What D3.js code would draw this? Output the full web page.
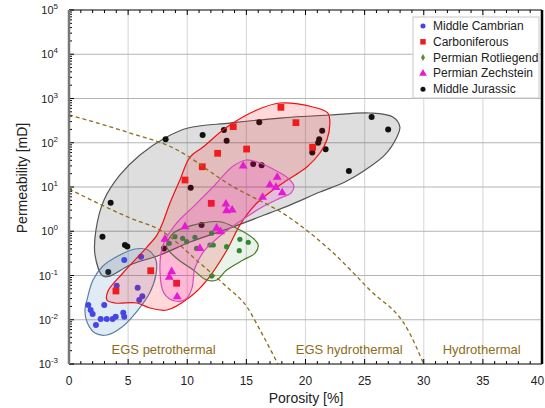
<!DOCTYPE html>
<html><head><meta charset="utf-8">
<script src="https://cdn.jsdelivr.net/npm/d3@7"></script>
<style>body{margin:0;background:#fff}svg{display:block;font-family:"Liberation Sans",Arial,sans-serif}</style>
</head><body><svg id="c" width="545" height="408"></svg>
<script>
// ---- data: [porosity %, permeability mD] ----
const cambrian = [[4.67,0.224],[6.09,0.266],[4.03,0.059],[5.81,0.053],[6.20,0.034],[5.94,0.028],[2.98,0.0215],[1.63,0.0215],[1.83,0.0166],[2.0,0.0135],[4.59,0.0144],[4.67,0.0117],[3.95,0.0117],[3.69,0.0104],[3.19,0.0104],[2.68,0.0104],[2.28,0.0076]];
const carboniferous = [[6.91,0.128],[3.97,0.0447],[17.92,632],[13.89,231],[19.19,284],[12.57,57.8],[15.02,72],[11.27,28.7],[9.81,14.4],[12.03,4.28],[20.60,79],[9.10,0.0667]];
const rotliegend = [[8.48,0.534],[8.96,0.753],[9.61,0.693],[9.95,0.58],[10.65,0.73],[10.79,0.41],[11.92,0.489],[12.2,0.489],[12.06,0.90],[13.33,0.448],[14.45,0.658],[15.16,0.563],[14.40,0.363],[12.06,0.0975]];
const zechstein = [[14.73,29.8],[17.61,16.6],[16.99,11.1],[17.50,9.8],[18.03,7.4],[16.37,5.85],[13.27,4.13],[13.33,2.91],[13.80,3.02],[9.81,1.27],[12.48,1.17],[12.81,0.98],[8.11,0.66],[11.07,0.41],[8.68,0.122],[8.48,0.091],[9.15,0.033]];
const jurassic = [[8.17,120],[3.52,4.4],[2.83,0.75],[4.73,0.49],[4.93,0.45],[3.32,0.12],[11.30,150],[13.10,194],[13.33,111],[16.09,290],[15.58,33],[16.29,31],[10.29,9.6],[21.41,187],[21.16,120],[21.07,100],[20.57,60],[21.70,71],[25.59,380],[26.99,200],[23.67,23],[11.21,1.38],[8.03,0.41]];

// envelope outlines
const cambrianHull = [[1.52,0.028],[2.03,0.079],[2.87,0.164],[4.14,0.276],[5.58,0.397],[6.68,0.377],[7.35,0.224],[7.35,0.103],[6.85,0.042],[5.83,0.0166],[4.48,0.00686],[3.21,0.00452],[2.20,0.0050],[1.52,0.0089],[1.35,0.0166]];
const carboniferousHull = [[3.21,0.028],[3.30,0.0446],[4.56,0.114],[6.59,0.44],[7.44,0.82],[7.95,1.62],[8.54,4.34],[9.38,14.4],[10.23,47.6],[11.33,80],[13.36,227],[15.89,550],[17.84,791],[20.63,643],[21.89,470],[22.06,279],[21.81,115],[21.22,58.6],[20.12,28.3],[19.53,21.8],[17.84,11.1],[15.89,4.34],[14.45,1.38],[13.36,0.377],[11.67,0.079],[10.23,0.0327],[8.28,0.0166],[6.85,0.0184],[5.75,0.0239],[3.89,0.0239]];
const rotliegendHull = [[8.26,0.448],[8.82,0.90],[10.51,1.38],[12.76,1.64],[14.18,1.17],[15.58,0.69],[16.0,0.49],[15.72,0.318],[14.73,0.224],[13.33,0.133],[12.49,0.079],[11.64,0.079],[10.51,0.133],[9.10,0.245]];
const zechsteinHull = [[14.96,40.8],[16.15,34.9],[17.41,24.2],[18.51,16],[19.02,10.5],[18.77,7.3],[17.84,5.6],[16.31,3.5],[14.88,2.0],[13.19,0.96],[11.5,0.377],[10.65,0.148],[10.4,0.052],[9.89,0.0294],[8.96,0.0265],[8.03,0.040],[7.69,0.133],[7.95,0.489],[8.96,1.38],[10.65,3.9],[12.34,11.1],[13.78,28.3]];
const jurassicHull = [[2.87,0.097],[2.20,0.29],[2.28,1.07],[2.96,5.1],[4.31,18.7],[6.0,53],[8.11,128],[10.06,215],[13.61,279],[17.84,362],[22.06,424],[25.44,470],[27.39,382],[27.98,227],[27.73,135],[26.71,53],[25.02,24],[23.33,13],[21.22,7.7],[18.68,3.9],[16.99,2.6],[13.61,1.18],[10.23,0.57],[7.69,0.29],[5.16,0.173],[3.47,0.097]];

// boundary curves
const petroBoundary = [[0,9.0],[5.16,2.0],[7.69,1.07],[11.07,0.19],[13.36,0.055],[15.05,0.0195],[16.15,0.0059],[17.67,0.001]];
const hydroBoundary = [[0,427],[5.16,166],[8.71,79],[13.61,11.2],[18.68,2.0],[22.06,0.38],[25.44,0.047],[28.66,0.0059],[30.0,0.001]];

const xTicks = [0,5,10,15,20,25,30,35,40];
const yExps = [-3,-2,-1,0,1,2,3,4,5];
const seriesNames = ["Middle Cambrian","Carboniferous","Permian Rotliegend","Permian Zechstein","Middle Jurassic"];
const zoneLabels = [["EGS petrothermal",8.0],["EGS hydrothermal",23.7],["Hydrothermal",34.9]];

// ---- drawing ----
const svg = d3.select("#c");
const L=69, R=542, T=10, B=364;
const x = d3.scaleLinear().domain([0,40]).range([L,R]);
const y = d3.scaleLog().domain([1e-3,1e5]).range([B,T]);

// grid
const g = svg.append("g");
g.selectAll(".vg").data(xTicks.slice(1,-1)).join("line")
  .attr("x1",d=>x(d)).attr("x2",d=>x(d)).attr("y1",T).attr("y2",B)
  .attr("stroke","#dcdcdc").attr("stroke-width",1.2);
g.selectAll(".hg").data(yExps.slice(1,-1)).join("line")
  .attr("x1",L).attr("x2",R).attr("y1",d=>y(Math.pow(10,d))).attr("y2",d=>y(Math.pow(10,d)))
  .attr("stroke","#b4b4b4").attr("stroke-width",1.2);

const hullLine = d3.line().x(d=>x(d[0])).y(d=>y(d[1])).curve(d3.curveCatmullRomClosed.alpha(0.5));
const plot = svg.append("g");

function drawHull(data, fill, op, stroke){
  plot.append("path").attr("d",hullLine(data)).attr("fill",fill).attr("fill-opacity",op)
    .attr("stroke",stroke).attr("stroke-width",1.2);
}
function drawCircles(data, color, r){
  plot.append("g").selectAll("circle").data(data).join("circle")
    .attr("cx",d=>x(d[0])).attr("cy",d=>y(d[1])).attr("r",r).attr("fill",color);
}
function drawSymbols(data, color, type, size){
  plot.append("g").selectAll("path").data(data).join("path")
    .attr("transform",d=>`translate(${x(d[0])},${y(d[1])})`)
    .attr("d",d3.symbol().type(type).size(size)).attr("fill",color);
}

const colors = {cam:"#4646e6", carb:"#ee1c1c", rot:"#2e8b2e", zech:"#e41bd0", jur:"#111111"};

drawHull(jurassicHull,"#000",0.13,"#555");
drawCircles(jurassic,colors.jur,3);
drawHull(cambrianHull,"#4682c8",0.16,"#5b7fa6");
drawCircles(cambrian,colors.cam,3);
drawHull(carboniferousHull,"#ff0000",0.15,"#ee1111");
drawSymbols(carboniferous,colors.carb,d3.symbolSquare,46);
drawHull(rotliegendHull,"#2e8b2e",0.1,"#4a7a2a");
drawCircles(rotliegend,colors.rot,2.6);
drawHull(zechsteinHull,"#ff00c8",0.15,"#d44fb8");
drawSymbols(zechstein,colors.zech,d3.symbolTriangle,34);

// boundary curves
const bLine = d3.line().x(d=>x(d[0])).y(d=>y(d[1])).curve(d3.curveMonotoneX);
[petroBoundary,hydroBoundary].forEach(c=>{
  svg.append("path").attr("d",bLine(c)).attr("fill","none").attr("stroke","#8c6d1a")
    .attr("stroke-width",1.3).attr("stroke-dasharray","4,3");
});

// zone labels
svg.selectAll(".zl").data(zoneLabels).join("text")
  .attr("x",d=>x(d[1])).attr("y",354).attr("text-anchor","middle")
  .attr("font-size",13).attr("fill","#8c6d1a").text(d=>d[0]);

// frame & ticks
const ax = svg.append("g");
const minorX = d3.range(0,41,1);
ax.selectAll(".tb").data(minorX).join("line")
  .attr("x1",d=>x(d)).attr("x2",d=>x(d)).attr("y1",B).attr("y2",d=>B-(d%5===0?5:3))
  .attr("stroke","#000");
ax.selectAll(".tt").data(minorX).join("line")
  .attr("x1",d=>x(d)).attr("x2",d=>x(d)).attr("y1",T).attr("y2",d=>T+(d%5===0?5:3))
  .attr("stroke","#000");
const minorY = [];
yExps.forEach(e=>{ for(let m=1;m<10;m++){ const v=m*Math.pow(10,e); if(v<=1e5) minorY.push([v,m===1]); } });
ax.selectAll(".ty").data(minorY).join("line")
  .attr("x1",L).attr("x2",d=>L+(d[1]?5:3)).attr("y1",d=>y(d[0])).attr("y2",d=>y(d[0]))
  .attr("stroke","#000");
ax.append("line").attr("x1",L).attr("x2",R).attr("y1",T).attr("y2",T).attr("stroke","#000");
ax.append("line").attr("x1",L).attr("x2",R).attr("y1",B).attr("y2",B).attr("stroke","#000");
ax.append("line").attr("x1",L).attr("x2",L).attr("y1",T).attr("y2",B).attr("stroke","#777").attr("stroke-width",2.5);
ax.append("line").attr("x1",R).attr("x2",R).attr("y1",T).attr("y2",B).attr("stroke","#000").attr("stroke-width",2.5);

// tick labels
svg.selectAll(".xl").data(xTicks).join("text")
  .attr("x",d=>Math.min(x(d),537.5)).attr("y",385).attr("text-anchor","middle").attr("font-size",12).attr("fill","#222").text(d=>d);
const yl = svg.selectAll(".yl").data(yExps).join("text")
  .attr("x",58).attr("y",d=>y(Math.pow(10,d))+4).attr("text-anchor","end").attr("font-size",11).attr("fill","#222");
yl.append("tspan").text("10");
yl.append("tspan").attr("dy",-5).attr("font-size",8).text(d=>d);

// axis titles
svg.append("text").attr("x",306).attr("y",403).attr("text-anchor","middle").attr("font-size",14).attr("fill","#222").text("Porosity [%]");
svg.append("text").attr("transform","translate(27,178) rotate(-90)").attr("text-anchor","middle").attr("font-size",14).attr("fill","#222").text("Permeability [mD]");

// legend
const lg = svg.append("g");
lg.append("rect").attr("x",413).attr("y",17).attr("width",126).attr("height",81).attr("fill","#fff").attr("stroke","#c8c8c8");
const legColors = [colors.cam,colors.carb,"#5a8a3a",colors.zech,colors.jur];
const legTypes = [d3.symbolCircle,d3.symbolSquare,d3.symbolDiamond,d3.symbolTriangle,d3.symbolCircle];
const legSizes = [20,30,14,26,20];
seriesNames.forEach((n,i)=>{
  const yy = 26+i*15.8;
  lg.append("path").attr("transform",`translate(423,${yy})`).attr("d",d3.symbol().type(legTypes[i]).size(legSizes[i])).attr("fill",legColors[i]);
  lg.append("text").attr("x",433).attr("y",yy+4).attr("font-size",12).attr("fill","#222").text(n);
});
</script></body></html>
